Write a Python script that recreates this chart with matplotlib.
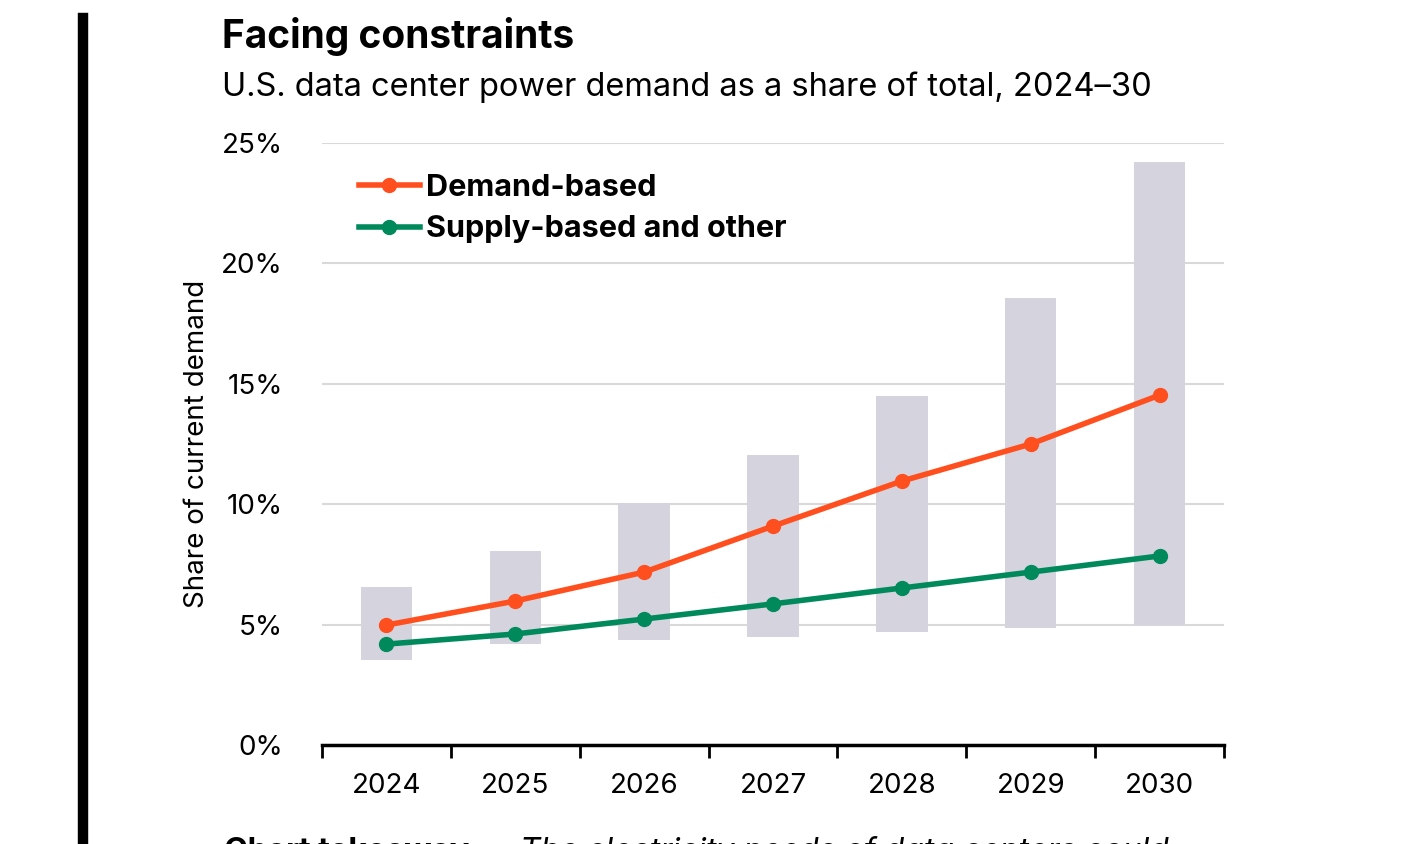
import matplotlib.pyplot as plt
import numpy as np

plt.rcParams['font.family'] = ['Inter', 'DejaVu Sans']

years = ['2024', '2025', '2026', '2027', '2028', '2029', '2030']
range_low = [3.55, 4.2, 4.35, 4.5, 4.7, 4.85, 5.0]
range_high = [6.55, 8.05, 10.05, 12.05, 14.5, 18.55, 24.2]
demand = [4.98, 5.98, 7.18, 9.09, 10.96, 12.5, 14.53]
supply = [4.19, 4.61, 5.23, 5.86, 6.52, 7.18, 7.85]

fig = plt.figure(figsize=(14.01, 8.44), dpi=100)
ax = fig.add_axes([322/1401, 1-745/844, 902/1401, 602/844])

x = np.arange(len(years))
ax.bar(x, np.array(range_high) - np.array(range_low), bottom=range_low,
       width=0.4, color='#d5d4de', zorder=1)
ax.plot(x, demand, color='#ff4f1f', lw=4, marker='o', ms=10, zorder=3, label='Demand-based')
ax.plot(x, supply, color='#008a5c', lw=4, marker='o', ms=10, zorder=3, label='Supply-based and other')

ax.set_xlim(-0.5, 6.5)
ax.set_ylim(0, 25)
ax.set_yticks([0, 5, 10, 15, 20, 25])
ax.set_yticklabels(['%d%%' % v for v in [0, 5, 10, 15, 20, 25]], fontsize=20)
ax.yaxis.grid(True, color='#d9d9d9', lw=1.5, zorder=0)
ax.set_axisbelow(True)
ax.tick_params(axis='y', length=0, pad=28)
ax.set_xticks(x)
ax.set_xticklabels(years, fontsize=20)
ax.tick_params(axis='x', length=0, pad=20)
ax.set_xticks(np.arange(-0.5, 7, 1), minor=True)
ax.tick_params(axis='x', which='minor', length=9, width=2, direction='out')
for s in ['top', 'right', 'left']:
    ax.spines[s].set_visible(False)
ax.spines['bottom'].set_linewidth(2.5)
ax.set_ylabel('Share of current demand', fontsize=20, labelpad=8)

leg = ax.legend(loc='upper left', bbox_to_anchor=(0.01, 0.995), frameon=False,
                fontsize=22, handlelength=2.0, handletextpad=0.2, labelspacing=0.45)
for t in leg.get_texts():
    t.set_fontweight('bold')

fig.add_artist(plt.Line2D([83/1401, 83/1401], [0, 1-18/844], color='black', lw=7.5))
fig.text(222/1401, 1-37/844, 'Facing constraints', fontsize=28, fontweight='bold', va='center')
fig.text(222/1401, 1-87/844, 'U.S. data center power demand as a share of total, 2024\u201330',
         fontsize=23.5, va='center')
fig.text(224/1401, 1-852/844, 'Chart takeaway:', fontsize=23, fontweight='bold', va='center')
fig.text(520/1401, 1-852/844, 'The electricity needs of data centers could', fontsize=23,
         style='italic', va='center')

fig.savefig('out.png', dpi=100)
